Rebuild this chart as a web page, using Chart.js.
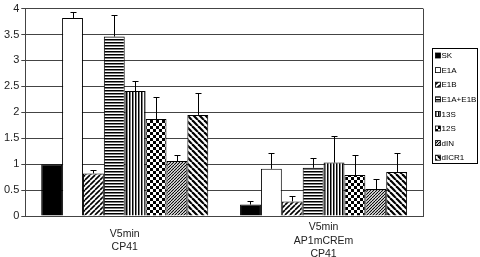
<!DOCTYPE html>
<html><head><meta charset="utf-8">
<script src="https://cdn.jsdelivr.net/npm/chart.js@4/dist/chart.umd.min.js"></script>
<style>html,body{margin:0;padding:0;background:#fff}#wrap{width:480px;height:257px}</style>
</head><body><div id="wrap"><canvas id="c"></canvas></div>
<script>
const categories = [["V5min","CP41"],["V5min","AP1mCREm","CP41"]];
const seriesNames = ["SK","E1A","E1B","E1A+E1B","13S","12S","dIN","dICR1"];
const SK = [1.0, 0.22];
const E1A = [3.82, 0.91];
const E1B = [0.82, 0.28];
const E1A_E1B = [3.46, 0.93];
const S13 = [2.41, 1.03];
const S12 = [1.87, 0.79];
const dIN = [1.06, 0.52];
const dICR1 = [1.95, 0.85];
const errSK = [0, 0.06];
const errE1A = [0.12, 0.30];
const errE1B = [0.07, 0.10];
const errE1A_E1B = [0.41, 0.18];
const err13S = [0.20, 0.51];
const err12S = [0.43, 0.38];
const errdIN = [0.11, 0.20];
const errdICR1 = [0.43, 0.37];
const yTicks = [0,0.5,1,1.5,2,2.5,3,3.5,4];

const values = [SK,E1A,E1B,E1A_E1B,S13,S12,dIN,dICR1];
const errors = [errSK,errE1A,errE1B,errE1A_E1B,err13S,err12S,errdIN,errdICR1];

function tile(w,h,draw){
  const c=document.createElement('canvas');c.width=w;c.height=h;
  const x=c.getContext('2d');x.fillStyle='#fff';x.fillRect(0,0,w,h);
  x.fillStyle='#000';x.strokeStyle='#000';draw(x,w,h);
  return x.createPattern(c,'repeat');
}
function diag(p,lw,up){
  return tile(p,p,(x,w,h)=>{
    x.lineWidth=lw;
    for(let k=-p;k<=p;k+=p){
      x.beginPath();
      if(up){x.moveTo(k,p);x.lineTo(k+p,0);}else{x.moveTo(k,0);x.lineTo(k+p,p);}
      x.stroke();
    }
  });
}
const fills = [
  '#000',
  '#fff',
  diag(5,1.6,true),
  tile(1,3,(x)=>{x.fillRect(0,0,1,1.5);}),
  tile(3,1,(x)=>{x.fillRect(0,0,1.5,1);}),
  tile(6,6,(x)=>{x.fillRect(0,0,3,3);x.fillRect(3,3,3,3);}),
  diag(3,1.1,true),
  diag(6,2.2,false)
];

const datasets = seriesNames.map((n,i)=>({
  label:n, data:values[i], err:errors[i],
  backgroundColor:fills[i], borderColor:'#000', borderWidth:1
}));

const errPlugin={id:'err',afterDatasetsDraw(chart){
  const c=chart.ctx, y=chart.scales.y;
  c.save();c.strokeStyle='#000';c.lineWidth=1;
  chart.data.datasets.forEach((ds,i)=>{
    const meta=chart.getDatasetMeta(i);
    meta.data.forEach((el,j)=>{
      const e=ds.err[j]; if(!e) return;
      const yt=y.getPixelForValue(ds.data[j]+e);
      const x=Math.round(el.x)+0.5;
      c.beginPath();c.moveTo(x,el.y);c.lineTo(x,Math.round(yt)+0.5);
      c.moveTo(x-3,Math.round(yt)+0.5);c.lineTo(x+3,Math.round(yt)+0.5);c.stroke();
    });
  });
  c.restore();
}};
const framePlugin={id:'frame',afterDraw(chart){
  const a=chart.chartArea,c=chart.ctx;
  c.save();c.strokeStyle='#444';c.lineWidth=1;
  c.beginPath();c.moveTo(Math.round(a.right)+0.5,a.top);c.lineTo(Math.round(a.right)+0.5,a.bottom);c.stroke();
  // legend
  const lx=Math.round(a.right)+9.5, ly=48.5, lw=45, lh=115;
  c.strokeStyle='#000';c.strokeRect(lx,ly,lw,lh);
  c.font='8px "Liberation Sans", Arial, sans-serif';c.textBaseline='middle';c.fillStyle='#000';
  chart.data.datasets.forEach((ds,i)=>{
    const yy=ly+7+i*14.6;
    c.fillStyle=ds.backgroundColor;c.fillRect(lx+3,yy-2.5,5,5);
    c.strokeStyle='#000';c.lineWidth=0.8;c.strokeRect(lx+3,yy-2.5,5,5);
    c.fillStyle='#000';c.fillText(ds.label,lx+9,yy+0.5);
  });
  c.restore();
}};

new Chart(document.getElementById('c'),{
  type:'bar',
  data:{labels:categories,datasets},
  options:{
    responsive:true,maintainAspectRatio:false,animation:false,
    layout:{padding:{left:2,right:57,top:-2,bottom:0}},
    plugins:{legend:{display:false},tooltip:{enabled:false}},
    datasets:{bar:{categoryPercentage:0.84,barPercentage:1}},
    scales:{
      x:{grid:{display:false},border:{color:'#444'},
        afterFit(s){s.height=41;},
        ticks:{color:'#222',padding:3,crossAlign:'center',maxRotation:0,
          font:{family:'"Liberation Sans", Arial, sans-serif',size:10.5,lineHeight:1.3}}},
      y:{min:0,max:4,afterBuildTicks(s){s.ticks=yTicks.map(v=>({value:v}));},
        grid:{color:'#444',tickLength:4},border:{color:'#444'},
        ticks:{color:'#222',padding:2,callback:v=>String(v),
          font:{family:'"Liberation Sans", Arial, sans-serif',size:11}}}
    }
  },
  plugins:[errPlugin,framePlugin]
});
</script></body></html>
